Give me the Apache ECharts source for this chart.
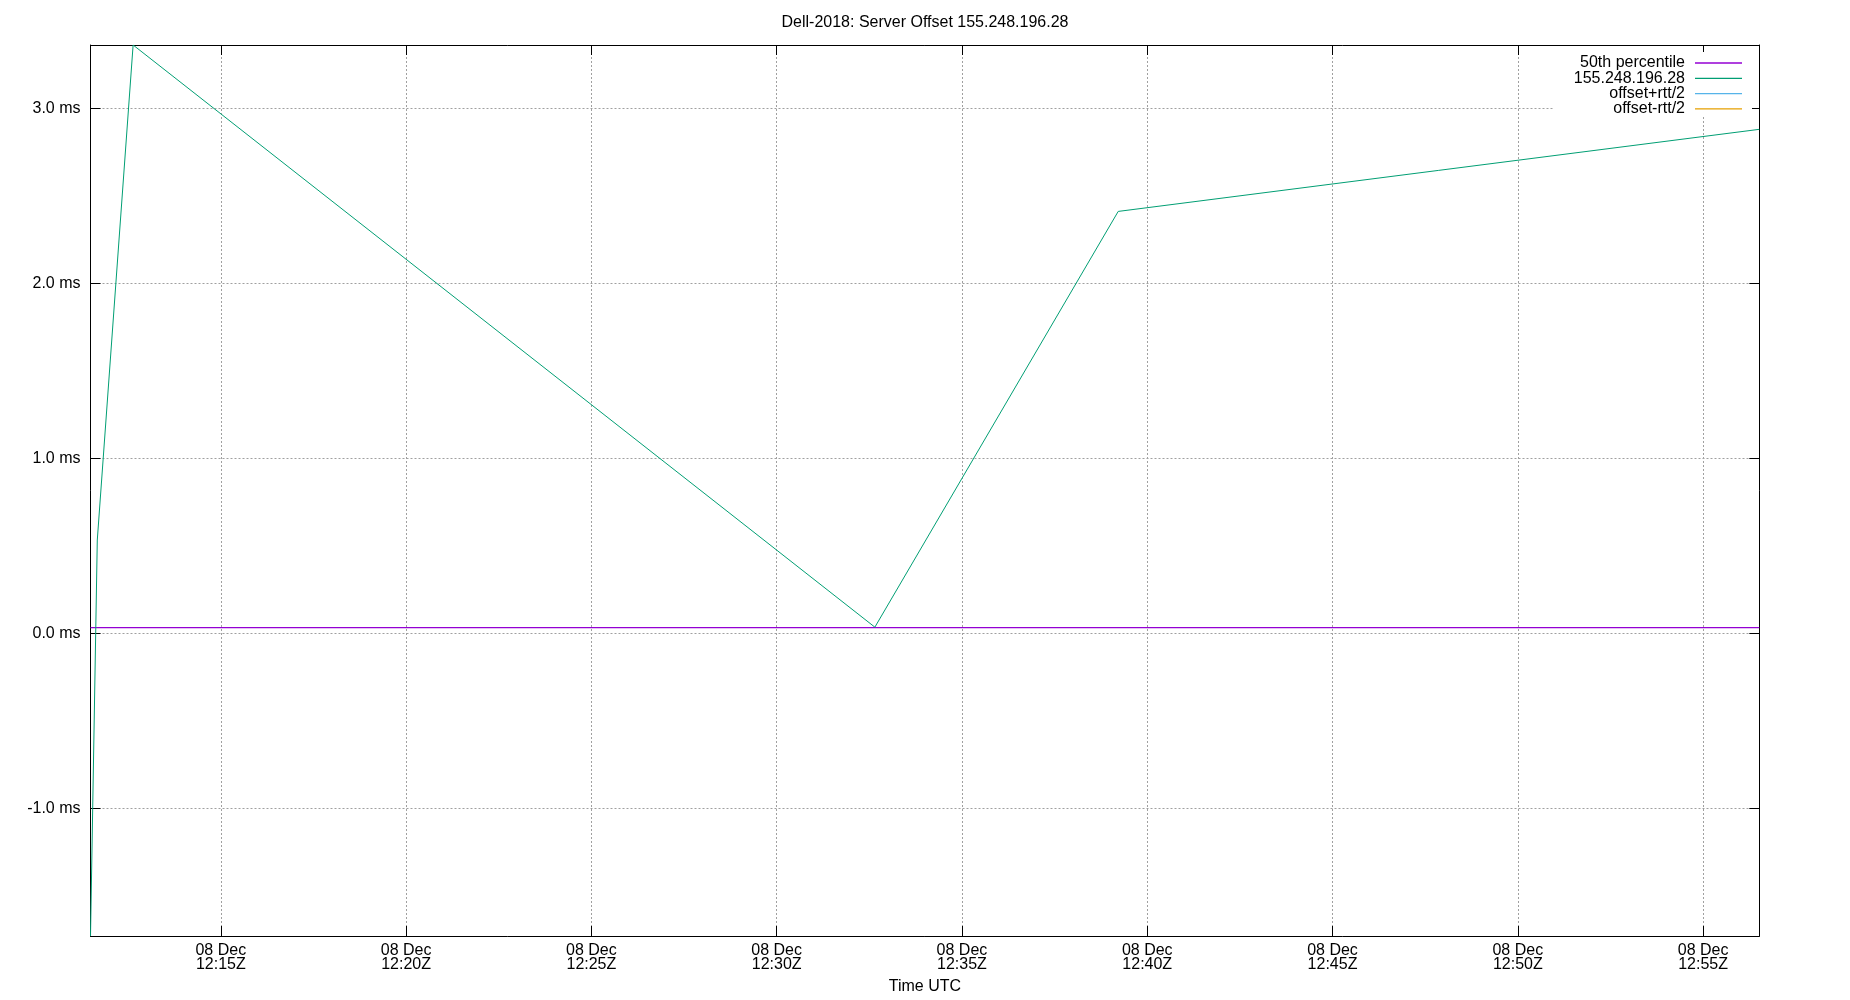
<!DOCTYPE html>
<html>
<head>
<meta charset="utf-8">
<title>Server Offset</title>
<script src="https://cdn.jsdelivr.net/npm/echarts@6/dist/echarts.min.js"></script>
<style>
  html, body { margin: 0; padding: 0; background: #fff; }
  #chart { width: 1850px; height: 1000px; }
</style>
</head>
<body>
<div id="chart"></div>
<script>
// sample times (UTC, 08 Dec) and offsets in ms
const sampleTimes = ['12:11:29', '12:11:40', '12:12:38', '12:32:39', '12:39:13', '12:56:31'];
const offsetMs = [-1.73, 0.533, 3.362, 0.035, 2.411, 2.88];
const p50Ms = [0.032, 0.032, 0.032, 0.032, 0.032, 0.032];
const legendNames = ['50th percentile', '155.248.196.28', 'offset+rtt/2', 'offset-rtt/2'];
const colors = ['#9400d3', '#009e73', '#56b4e9', '#e69f00'];
const dateLabel = '08 Dec';

const FONT = 'Liberation Sans, Arial, sans-serif';

// minutes after 12:00
function toMin(t) {
	var p = t.split(':');
	return (Number(p[0]) - 12) * 60 + Number(p[1]) + Number(p[2]) / 60;
}
const xs = sampleTimes.map(toMin);
const xMin = Math.min.apply(null, xs);
const xMax = Math.max.apply(null, xs);
const yMin = Math.min.apply(null, offsetMs);
const yMax = Math.max.apply(null, offsetMs);

function pad(n) {
	return (n < 10 ? '0' : '') + n;
}
function timeLabel(v) {
	var m = Math.round(v);
	return dateLabel + '\n' + (12 + Math.floor(m / 60)) + ':' + pad(m % 60) + 'Z';
}

const gridStyle = { type: [2, 2], color: '#a0a0a0', width: 1 };
const tickStyle = { show: true, inside: true, length: 10, lineStyle: { color: '#000', width: 1 } };
const axisLine = { show: true, onZero: false, lineStyle: { color: '#000', width: 1 } };

var chart = echarts.init(document.getElementById('chart'));
chart.setOption({
	animation: false,
	backgroundColor: '#fff',
	textStyle: { fontFamily: FONT },
	title: {
		text: 'Dell-2018: Server Offset 155.248.196.28',
		left: 'center',
		top: 15,
		padding: 0,
		textStyle: { fontFamily: FONT, fontSize: 16, fontWeight: 'normal', color: '#000' }
	},
	legend: {
		data: legendNames,
		orient: 'vertical',
		right: 98,
		top: 52,
		align: 'right',
		padding: [3, 10, 0, 20],
		backgroundColor: '#fff',
		icon: 'rect',
		itemWidth: 47,
		itemHeight: 1.3,
		itemGap: -0.7,
		selectedMode: false,
		textStyle: { fontFamily: FONT, fontSize: 16, color: '#000', lineHeight: 15.3, padding: [0, 5, 0, 0] }
	},
	grid: { left: 90.5, right: 90.7, top: 45, bottom: 64, containLabel: false },
	xAxis: [{
		type: 'value',
		min: xMin,
		max: xMax,
		splitNumber: 9,
		name: 'Time UTC',
		nameLocation: 'middle',
		nameGap: 43,
		nameTextStyle: { fontFamily: FONT, fontSize: 16, color: '#000' },
		axisLine: axisLine,
		axisTick: tickStyle,
		axisLabel: {
			showMinLabel: false,
			showMaxLabel: false,
			fontFamily: FONT, fontSize: 16, color: '#000', lineHeight: 14, margin: 8,
			formatter: timeLabel
		},
		splitLine: { show: true, lineStyle: gridStyle }
	}, {
		type: 'value',
		position: 'top',
		min: xMin,
		max: xMax,
		splitNumber: 9,
		axisLine: axisLine,
		axisTick: tickStyle,
		axisLabel: { show: false },
		splitLine: { show: false }
	}],
	yAxis: [{
		type: 'value',
		min: yMin,
		max: yMax,
		splitNumber: 5,
		axisLine: axisLine,
		axisTick: tickStyle,
		axisLabel: {
			showMinLabel: false,
			showMaxLabel: false,
			fontFamily: FONT, fontSize: 16, color: '#000', margin: 10,
			formatter: function (v) { return v.toFixed(1) + ' ms'; }
		},
		splitLine: { show: true, lineStyle: gridStyle }
	}, {
		type: 'value',
		position: 'right',
		min: yMin,
		max: yMax,
		splitNumber: 5,
		axisLine: axisLine,
		axisTick: tickStyle,
		axisLabel: { show: false },
		splitLine: { show: false }
	}],
	series: [{
		name: legendNames[0],
		type: 'line',
		showSymbol: false,
		color: colors[0],
		lineStyle: { width: 1.2, color: colors[0] },
		data: xs.map(function (x, i) { return [x, p50Ms[i]]; })
	}, {
		name: legendNames[1],
		type: 'line',
		showSymbol: false,
		color: colors[1],
		lineStyle: { width: 1, color: colors[1] },
		data: xs.map(function (x, i) { return [x, offsetMs[i]]; })
	}, {
		name: legendNames[2],
		type: 'line',
		showSymbol: false,
		color: colors[2],
		lineStyle: { width: 1, color: colors[2] },
		data: []
	}, {
		name: legendNames[3],
		type: 'line',
		showSymbol: false,
		color: colors[3],
		lineStyle: { width: 1, color: colors[3] },
		data: []
	}]
});
</script>
</body>
</html>
